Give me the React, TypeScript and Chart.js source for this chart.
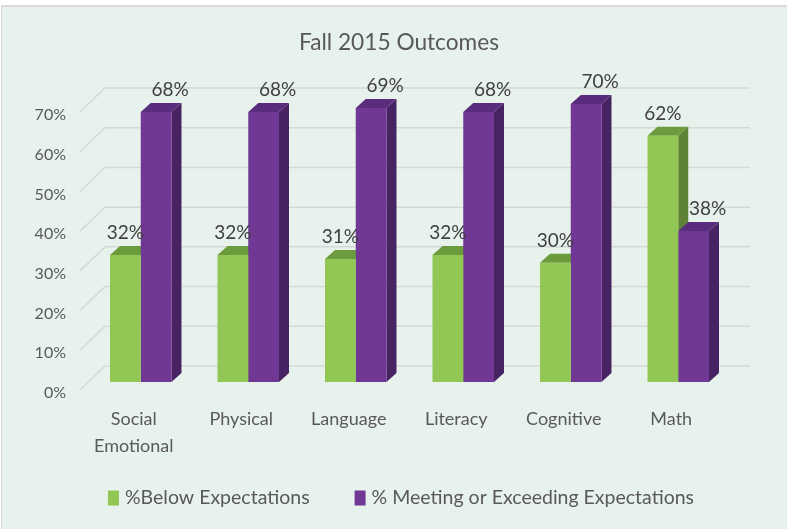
import React, { useEffect, useRef } from "react";
import { Chart, registerables } from "chart.js";

Chart.register(...registerables);

const categories: (string | string[])[] = [["Social", "Emotional"], "Physical", "Language", "Literacy", "Cognitive", "Math"];
const belowValues = [32, 32, 31, 32, 30, 62];
const meetingValues = [68, 68, 69, 68, 70, 38];
const seriesNames = ["%Below Expectations", "% Meeting or Exceeding Expectations"];
const yMax = 70;
const yStep = 10;

const FONT = "Lato, 'Open Sans', sans-serif";
const BG = "#E8F2EC";
const TEXT = "#595959";
const GREEN = { front: "#92C755", side: "#5E8336", top: "#6C9B3E" };
const PURPLE = { front: "#703894", side: "#472363", top: "#5A2C7D" };
const COLORS = [GREEN, PURPLE];

const DX = 10; // bar depth x
const DY = -9; // bar depth y

const threeD = {
  id: "threeD",
  beforeDraw(chart: any) {
    const { ctx, width, height } = chart;
    ctx.save();
    ctx.fillStyle = "#ffffff";
    ctx.fillRect(0, 0, width, height);
    ctx.fillStyle = BG;
    ctx.fillRect(2, 6, width - 2, height - 6);
    ctx.fillStyle = "#D9D9D9";
    ctx.fillRect(1, 5, width - 1, 2);
    ctx.fillRect(1, 5, 1, height - 5);
    ctx.restore();
  },
  beforeDatasetsDraw(chart: any) {
    const { ctx, chartArea, scales } = chart;
    const y = scales.y;
    ctx.save();
    ctx.strokeStyle = "#D5D9D6";
    ctx.lineWidth = 1.5;
    for (let v = 0; v <= yMax; v += yStep) {
      const py = y.getPixelForValue(v);
      ctx.beginPath();
      ctx.moveTo(chartArea.left - 7, py + 8);
      ctx.lineTo(chartArea.left + 18, py - 16);
      ctx.lineTo(chartArea.right + 18, py - 16);
      ctx.stroke();
    }
    // side and top faces
    chart.data.datasets.forEach((ds: any, di: number) => {
      const meta = chart.getDatasetMeta(di);
      const c = COLORS[di];
      meta.data.forEach((bar: any) => {
        const { x, y: top, base, width: w } = bar.getProps(["x", "y", "base", "width"], true);
        const l = x - w / 2;
        const r = x + w / 2;
        ctx.fillStyle = c.side;
        ctx.beginPath();
        ctx.moveTo(r, top);
        ctx.lineTo(r + DX, top + DY);
        ctx.lineTo(r + DX, base + DY);
        ctx.lineTo(r, base);
        ctx.closePath();
        ctx.fill();
        ctx.fillStyle = c.top;
        ctx.beginPath();
        ctx.moveTo(l, top);
        ctx.lineTo(l + DX, top + DY);
        ctx.lineTo(r + DX, top + DY);
        ctx.lineTo(r, top);
        ctx.closePath();
        ctx.fill();
      });
    });
    ctx.restore();
  },
  afterDatasetsDraw(chart: any) {
    const { ctx } = chart;
    ctx.save();
    ctx.font = `19px ${FONT}`;
    ctx.fillStyle = "#404040";
    ctx.textAlign = "center";
    ctx.textBaseline = "alphabetic";
    chart.data.datasets.forEach((ds: any, di: number) => {
      const meta = chart.getDatasetMeta(di);
      meta.data.forEach((bar: any, i: number) => {
        const { x, y: top } = bar.getProps(["x", "y"], true);
        const off = di === 0 ? 0 : 14;
        ctx.fillText(`${ds.data[i]}%`, x + off, top - 16);
      });
    });
    ctx.restore();
  },
  afterDraw(chart: any) {
    const { ctx } = chart;
    ctx.save();
    // title
    ctx.font = `22.7px ${FONT}`;
    ctx.fillStyle = TEXT;
    ctx.textAlign = "center";
    ctx.textBaseline = "middle";
    ctx.fillText("Fall 2015 Outcomes", 399, 43);
    // legend
    ctx.font = `19.5px ${FONT}`;
    ctx.textAlign = "left";
    const boxW = 11, boxH = 15, gap = 6, spacing = 45;
    const widths = seriesNames.map((n) => ctx.measureText(n).width);
    const total = widths.reduce((a, b) => a + b, 0) + seriesNames.length * (boxW + gap) + spacing * (seriesNames.length - 1);
    let x = 401 - total / 2;
    const cy = 498;
    seriesNames.forEach((n, i) => {
      ctx.fillStyle = COLORS[i].front;
      ctx.fillRect(x, cy - boxH / 2, boxW, boxH);
      ctx.fillStyle = TEXT;
      ctx.fillText(n, x + boxW + gap, cy);
      x += boxW + gap + widths[i] + spacing;
    });
    ctx.restore();
  },
};

export default function App() {
  const ref = useRef<HTMLCanvasElement>(null);
  useEffect(() => {
    document.body.style.margin = "0";
    const chart = new Chart(ref.current!, {
      type: "bar",
      data: {
        labels: categories,
        datasets: [
          { label: seriesNames[0], data: belowValues, backgroundColor: GREEN.front },
          { label: seriesNames[1], data: meetingValues, backgroundColor: PURPLE.front },
        ],
      },
      options: {
        responsive: false,
        animation: false,
        layout: { padding: { top: 104, right: 55, left: 0, bottom: 0 } },
        datasets: { bar: { categoryPercentage: 0.572, barPercentage: 1 } },
        plugins: { legend: { display: false }, title: { display: false }, tooltip: { enabled: false } },
        scales: {
          x: {
            grid: { display: false },
            border: { display: false },
            ticks: {
              color: TEXT,
              font: { family: FONT, size: 18, lineHeight: 1.5 },
              padding: 16,
              labelOffset: -7,
              maxRotation: 0,
              autoSkip: false,
            },
            afterFit: (axis: any) => {
              axis.height = 147;
            },
          },
          y: {
            min: 0,
            max: yMax,
            grid: { display: false, drawTicks: false },
            border: { display: false },
            ticks: {
              stepSize: yStep,
              color: TEXT,
              font: { family: FONT, size: 16 },
              padding: 21,
              labelOffset: 11,
              callback: (v: any) => `${v}%`,
            },
            afterFit: (axis: any) => {
              axis.width = 87;
            },
          },
        },
      },
      plugins: [threeD],
    });
    return () => chart.destroy();
  }, []);
  return (
    <div style={{ width: 787, height: 529 }}>
      <canvas ref={ref} width={787} height={529} />
    </div>
  );
}
